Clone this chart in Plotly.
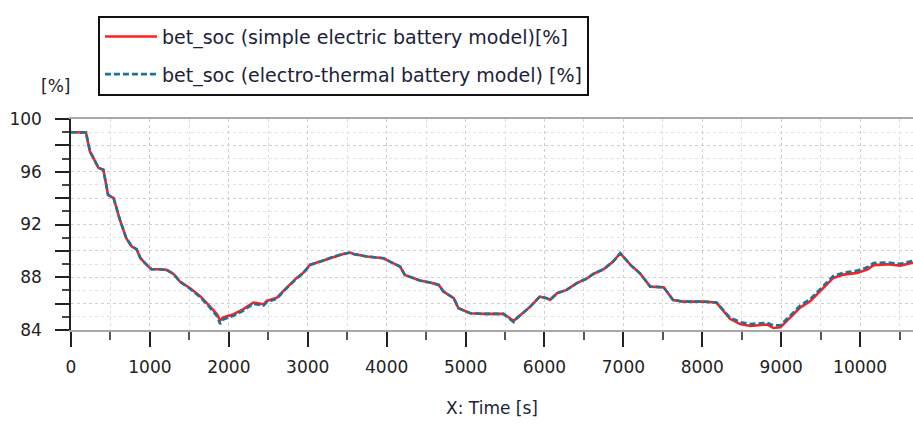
import plotly.graph_objects as go

# Simulation time [s]
time_s = [0, 190, 240, 350, 410, 470, 540, 620, 700, 770, 830, 880, 960, 1020,
          1110, 1210, 1300, 1380, 1510, 1640, 1760, 1850, 1890, 1930, 2060, 2180,
          2310, 2440, 2480, 2610, 2730, 2860, 2940, 3030, 3160, 3330, 3450, 3540,
          3580, 3750, 3960, 4040, 4170, 4230, 4340, 4420, 4550, 4660, 4720, 4850,
          4910, 5060, 5230, 5480, 5610, 5650, 5820, 5940, 6030, 6070, 6160, 6280,
          6410, 6540, 6620, 6750, 6870, 6960, 7000, 7090, 7210, 7340, 7510, 7630,
          7760, 8010, 8180, 8270, 8350, 8480, 8610, 8820, 8900, 8990, 9070, 9240,
          9370, 9490, 9660, 9790, 9960, 10090, 10170, 10340, 10510, 10670]

# State of charge, simple electric battery model [%]
soc_simple = [99.0, 98.98, 97.54, 96.28, 96.15, 94.25, 94.0, 92.35, 90.96, 90.33,
              90.13, 89.44, 88.94, 88.61, 88.61, 88.56, 88.25, 87.67, 87.17, 86.55,
              85.8, 85.2, 84.72, 84.95, 85.2, 85.56, 86.08, 85.95, 86.2, 86.45,
              87.2, 87.95, 88.32, 88.95, 89.2, 89.57, 89.77, 89.87, 89.77, 89.57,
              89.44, 89.19, 88.81, 88.18, 87.92, 87.75, 87.60, 87.42, 86.91, 86.41,
              85.65, 85.27, 85.22, 85.22, 84.7, 84.89, 85.77, 86.53, 86.41, 86.28,
              86.79, 87.04, 87.55, 87.92, 88.25, 88.61, 89.19, 89.82, 89.57, 88.94,
              88.30, 87.29, 87.24, 86.28, 86.15, 86.15, 86.08, 85.39, 84.85, 84.45,
              84.3, 84.42, 84.15, 84.2, 84.7, 85.7, 86.2, 86.95, 87.95, 88.2,
              88.33, 88.58, 88.92, 88.98, 88.88, 89.1]

# State of charge, electro-thermal battery model [%]
soc_thermal = [99.0, 98.98, 97.54, 96.28, 96.15, 94.25, 94.0, 92.35, 90.96, 90.33,
               90.13, 89.44, 88.94, 88.61, 88.61, 88.56, 88.25, 87.67, 87.12, 86.48,
               85.7, 85.05, 84.45, 84.8, 85.08, 85.45, 85.98, 85.85, 86.1, 86.38,
               87.15, 87.9, 88.28, 88.93, 89.19, 89.57, 89.77, 89.87, 89.77, 89.57,
               89.44, 89.19, 88.81, 88.18, 87.92, 87.75, 87.60, 87.42, 86.91, 86.41,
               85.65, 85.27, 85.22, 85.22, 84.6, 84.89, 85.77, 86.53, 86.41, 86.28,
               86.79, 87.04, 87.55, 87.92, 88.25, 88.61, 89.19, 89.82, 89.57, 88.94,
               88.30, 87.29, 87.24, 86.28, 86.15, 86.15, 86.08, 85.45, 84.95, 84.6,
               84.45, 84.55, 84.35, 84.35, 84.82, 85.85, 86.36, 87.1, 88.1, 88.35,
               88.5, 88.75, 89.08, 89.12, 89.02, 89.25]

series_names = ["bet_soc (simple electric battery model)[%]",
                "bet_soc (electro-thermal battery model) [%]"]

y_tickvals = [84, 86, 88, 90, 92, 94, 96, 98, 100]
y_ticktext = ["84", "", "88", "", "92", "", "96", "", "100"]

FONT = "DejaVu Sans"
TEXT = "#1c2238"

fig = go.Figure()
fig.add_trace(go.Scatter(
    x=time_s, y=soc_simple, mode="lines", name=series_names[0],
    legendgroup="a",
    line=dict(color="#ff1f1f", width=2.6),
))
fig.add_trace(go.Scatter(
    x=time_s, y=soc_thermal, mode="lines", name=series_names[1],
    legendgroup="b",
    line=dict(color="#1d7396", width=2.6, dash="6px,3px"),
))

fig.update_layout(
    width=913, height=428,
    margin=dict(l=71, r=0, t=119, b=98),
    paper_bgcolor="white", plot_bgcolor="white",
    font=dict(family=FONT, size=17, color="#222"),
    showlegend=True,
    legend=dict(
        x=0.032, y=1.49, xanchor="left", yanchor="top",
        bordercolor="#111", borderwidth=2, bgcolor="white",
        font=dict(family=FONT, size=19, color=TEXT),
        tracegroupgap=10,
        itemwidth=52,
    ),
    xaxis=dict(
        range=[0, 10670],
        dtick=1000, tick0=0, tickformat="d",
        showline=True, linecolor="#a8a8a8", linewidth=2, mirror=True,
        ticks="outside", ticklen=15, tickwidth=2, tickcolor="#222",
        showgrid=True, gridcolor="#cfcfcf", griddash="dot", gridwidth=1,
        zeroline=False,
        tickfont=dict(family=FONT, size=17, color="#222"),
        ticklabelstandoff=6,
        minor=dict(dtick=500, ticks="outside", ticklen=8, tickwidth=2,
                   tickcolor="#555", showgrid=True, gridcolor="#dedede",
                   griddash="dot", gridwidth=1),
        title=dict(text="X: Time [s]", standoff=26,
                   font=dict(family=FONT, size=17, color=TEXT)),
    ),
    yaxis=dict(
        range=[84, 100],
        tickmode="array", tickvals=y_tickvals, ticktext=y_ticktext,
        showline=True, linecolor="#222", linewidth=1.5,
        ticks="outside", ticklen=14, tickwidth=2, tickcolor="#222",
        showgrid=True, gridcolor="#cfcfcf", griddash="dot", gridwidth=1,
        zeroline=False,
        tickfont=dict(family=FONT, size=17, color="#222"),
        ticklabelstandoff=10,
        minor=dict(dtick=1, ticks="outside", ticklen=7, tickwidth=2,
                   tickcolor="#444", showgrid=True, gridcolor="#e2e2e2",
                   griddash="dot", gridwidth=1),
    ),
    annotations=[dict(
        text="[%]", xref="paper", yref="paper",
        x=-0.019, y=1.155, xanchor="center", yanchor="middle",
        showarrow=False, font=dict(family=FONT, size=17, color="#222"),
    )],
)

fig.write_html("out.html")
